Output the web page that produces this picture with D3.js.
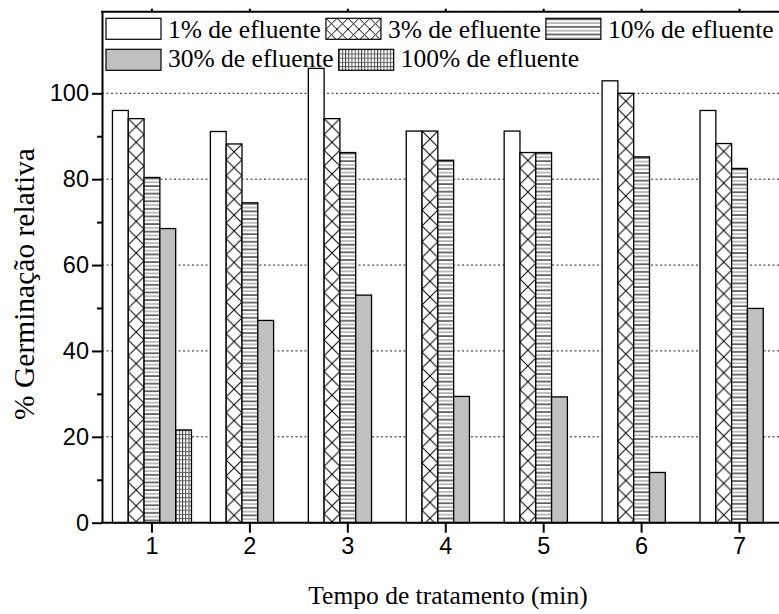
<!DOCTYPE html>
<html>
<head>
<meta charset="utf-8">
<script src="https://cdnjs.cloudflare.com/ajax/libs/d3/7.8.5/d3.min.js"></script>
<style>
body { margin: 0; background: #fff; }
svg { display: block; }
</style>
</head>
<body>
<div id="chart"></div>
<script>
// tempo de tratamento (min)
var groups = ["1", "2", "3", "4", "5", "6", "7"];
var seriesNames = ["1% de efluente", "3% de efluente", "10% de efluente", "30% de efluente", "100% de efluente"];

// % germinacao relativa
var ef1   = [96.0, 91.1, 105.8, 91.2, 91.2, 102.9, 96.0];
var ef3   = [94.1, 88.2, 94.1, 91.2, 86.2, 100.0, 88.3];
var ef10  = [80.4, 74.5, 86.2, 84.4, 86.2, 85.2, 82.5];
var ef30  = [68.5, 47.1, 53.0, 29.4, 29.3, 11.7, 49.9];
var ef100 = [21.6, null, null, null, null, null, null];

var yTicks = [0, 20, 40, 60, 80, 100];
var yMinor = [10, 30, 50, 70, 90];

var allSeries = [ef1, ef3, ef10, ef30, ef100];
var kinds = ["blank", "cross", "hlines", "gray", "grid"];

var width = 779, height = 614;
var plotLeft = 103, plotRight = 788.5, plotTop = 11.7, plotBottom = 522.7;
var serif = '"Liberation Serif", "Times New Roman", serif';
var sans = '"Liberation Sans", Arial, sans-serif';

var svg = d3.select("#chart").append("svg")
	.attr("width", width)
	.attr("height", height);
var defs = svg.append("defs");

var xScale = d3.scaleBand()
	.domain(groups)
	.range([plotLeft, plotRight])
	.paddingInner(0.193)
	.paddingOuter(0.0965);
var xSeries = d3.scaleBand()
	.domain(d3.range(seriesNames.length))
	.range([0, xScale.bandwidth()]);
var yScale = d3.scaleLinear()
	.domain([0, 119])
	.range([plotBottom, plotTop]);

// fill patterns, anchored on the mark they fill
function makePattern(id, kind, x0, y0, cell) {
	var p = defs.append("pattern")
		.attr("id", id)
		.attr("patternUnits", "userSpaceOnUse")
		.attr("x", x0)
		.attr("y", y0);
	if (kind === "cross") {
		p.attr("width", cell).attr("height", cell);
		p.append("rect").attr("width", cell).attr("height", cell).attr("fill", "#fff");
		p.append("path")
			.attr("d", "M0,0L" + cell + "," + cell + "M" + cell + ",0L0," + cell)
			.attr("stroke", "#000")
			.attr("stroke-width", 1);
	} else if (kind === "hlines") {
		p.attr("width", 10).attr("height", 7.6);
		p.append("rect").attr("width", 10).attr("height", 7.6).attr("fill", "#fff");
		p.append("line").attr("x1", 0).attr("x2", 10).attr("y1", 1).attr("y2", 1)
			.attr("stroke", "#000").attr("stroke-width", 1.1);
		p.append("line").attr("x1", 0).attr("x2", 10).attr("y1", 4.8).attr("y2", 4.8)
			.attr("stroke", "#8a8a8a").attr("stroke-width", 1.1);
	} else if (kind === "grid") {
		p.attr("width", 3.2).attr("height", 4.2);
		p.append("rect").attr("width", 3.2).attr("height", 4.2).attr("fill", "#fff");
		p.append("line").attr("x1", 0.5).attr("x2", 0.5).attr("y1", 0).attr("y2", 4.2)
			.attr("stroke", "#333").attr("stroke-width", 0.9);
		p.append("line").attr("x1", 0).attr("x2", 3.2).attr("y1", 0.5).attr("y2", 0.5)
			.attr("stroke", "#555").attr("stroke-width", 0.9);
	}
	return "url(#" + id + ")";
}

function fillFor(kind, id, x0, y0, cell) {
	if (kind === "blank") return "#fff";
	if (kind === "gray") return "#c0c0c0";
	return makePattern(id, kind, x0, y0, cell);
}

// dotted gridlines
svg.append("g").selectAll("line")
	.data(yTicks.filter(function(d) { return d > 0; }))
	.enter()
	.append("line")
	.attr("x1", plotLeft - 1)
	.attr("x2", width)
	.attr("y1", function(d) { return yScale(d); })
	.attr("y2", function(d) { return yScale(d); })
	.attr("stroke", "#222")
	.attr("stroke-width", 1)
	.attr("stroke-dasharray", "2,2.5");

// bars
var bars = [];
allSeries.forEach(function(vals, s) {
	vals.forEach(function(v, g) {
		if (v !== null) bars.push({ s: s, g: groups[g], value: v });
	});
});

svg.append("g").selectAll(".bar")
	.data(bars)
	.enter()
	.append("rect")
	.attr("class", "bar")
	.attr("x", function(d) { return xScale(d.g) + xSeries(d.s); })
	.attr("y", function(d) { return yScale(d.value); })
	.attr("width", xSeries.bandwidth())
	.attr("height", function(d) { return yScale(0) - yScale(d.value); })
	.attr("fill", function(d) {
		var x0 = xScale(d.g) + xSeries(d.s);
		return fillFor(kinds[d.s], "pb" + d.s + "_" + d.g, x0, yScale(d.value), xSeries.bandwidth());
	})
	.attr("stroke", "#000")
	.attr("stroke-width", 1.3);

// axes
var yAxis = svg.append("g")
	.attr("transform", "translate(102,0)")
	.call(d3.axisLeft(yScale).tickValues(yTicks).tickSize(10).tickSizeOuter(0).tickPadding(3));
yAxis.selectAll("text").attr("font-family", sans).attr("font-size", 23.5).attr("fill", "#000");

var yMinorAxis = svg.append("g")
	.attr("transform", "translate(102,0)")
	.call(d3.axisLeft(yScale).tickValues(yMinor).tickSize(5).tickSizeOuter(0).tickFormat(""));
yMinorAxis.select(".domain").remove();

var xAxis = svg.append("g")
	.attr("transform", "translate(0," + plotBottom + ")")
	.call(d3.axisBottom(xScale).tickSize(10).tickSizeOuter(0).tickPadding(5));
xAxis.selectAll("text").attr("font-family", sans).attr("font-size", 23.5).attr("fill", "#000");
xAxis.select(".domain").attr("d", "M101,0H" + width);

var topAxis = svg.append("g")
	.attr("transform", "translate(0," + plotTop + ")")
	.call(d3.axisTop(xScale).tickSize(3).tickSizeOuter(0).tickFormat(""));
topAxis.select(".domain").attr("d", "M101,0H" + width);

svg.selectAll(".domain").attr("stroke", "#000").attr("stroke-width", 2);
svg.selectAll(".tick line").attr("stroke", "#000").attr("stroke-width", 2);

// legend
var legendRows = [[0, 1, 2], [3, 4]];
var rowBoxY = [18.3, 49.3];
var rowTextY = [37.5, 67];
var legend = svg.append("g");
legendRows.forEach(function(row, r) {
	var x = 106;
	row.forEach(function(s) {
		legend.append("rect")
			.attr("x", x)
			.attr("y", rowBoxY[r])
			.attr("width", 55)
			.attr("height", 21)
			.attr("fill", fillFor(kinds[s], "pl" + s, x, rowBoxY[r], 11))
			.attr("stroke", "#000")
			.attr("stroke-width", 1.2);
		var t = legend.append("text")
			.attr("x", x + 62)
			.attr("y", rowTextY[r])
			.attr("font-family", serif)
			.attr("font-size", 25.5)
			.attr("fill", "#000")
			.text(seriesNames[s]);
		x = x + 62 + t.node().getComputedTextLength() + 5;
	});
});

// axis titles
svg.append("text")
	.attr("transform", "translate(34,284) rotate(-90)")
	.attr("text-anchor", "middle")
	.attr("font-family", serif)
	.attr("font-size", 29.5)
	.attr("fill", "#000")
	.text("% Germinação relativa");

svg.append("text")
	.attr("x", 448)
	.attr("y", 604)
	.attr("text-anchor", "middle")
	.attr("font-family", serif)
	.attr("font-size", 25.5)
	.attr("fill", "#000")
	.text("Tempo de tratamento (min)");
</script>
</body>
</html>
